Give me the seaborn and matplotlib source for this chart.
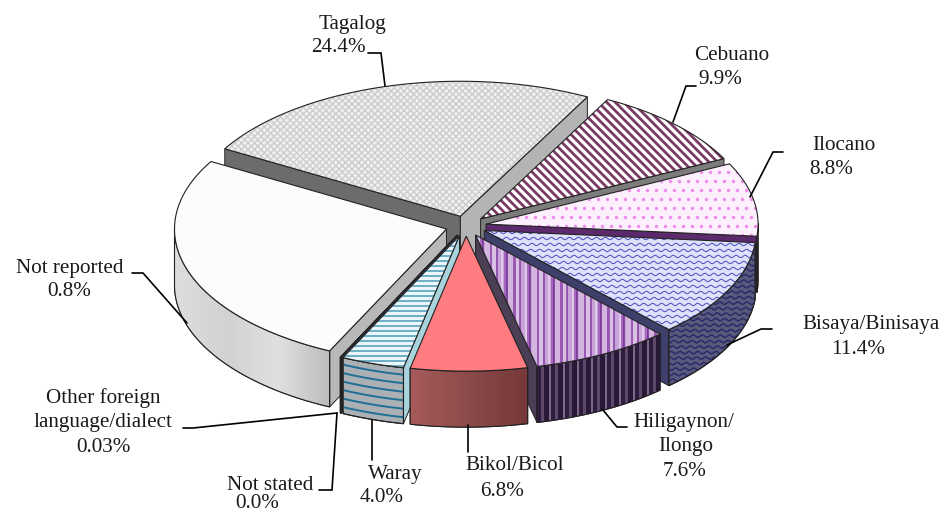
from __future__ import annotations

import matplotlib
matplotlib.use("Agg")
import matplotlib.pyplot as plt
import numpy as np
import seaborn as sns
from matplotlib.collections import LineCollection
from matplotlib.patches import Polygon

# shares in percent, clockwise from the Tagalog slice; the white slice also holds
# the unlabelled remainder next to "Not reported" (0.8%)
languages = ["Tagalog", "Cebuano", "Ilocano", "Bisaya", "Hiligaynon", "Bikol", "Waray",
             "Not stated", "Other foreign", "Not reported"]
shares = [24.4, 9.9, 8.8, 11.4, 7.6, 6.8, 4.0, 0.0, 0.03, 27.07]

label_lines = [
    ("Tagalog", 352, 24), ("24.4%", 338, 48),
    ("Cebuano", 732, 55), ("9.9%", 720, 80),
    ("Ilocano", 844, 145), ("8.8%", 831, 169),
    ("Bisaya/Binisaya", 871, 324), ("11.4%", 858, 349),
    ("Hiligaynon/", 684, 422), ("Ilongo", 686, 446), ("7.6%", 685, 471),
    ("Bikol/Bicol", 515, 465), ("6.8%", 502, 491),
    ("Waray", 395, 475), ("4.0%", 382, 498),
    ("Not stated", 270, 485), ("0.0%", 257, 504),
    ("Other foreign", 103, 398), ("language/dialect", 103, 422), ("0.03%", 103, 447),
    ("Not reported", 70, 268), ("0.8%", 69, 292),
]
leaders = [
    [(368, 53), (381, 53), (385, 86)],
    [(696, 86), (686, 86), (673, 122)],
    [(783, 152), (773, 152), (750, 197)],
    [(772, 329), (761, 329), (727, 345)],
    [(603, 410), (617, 427), (627, 427)],
    [(468, 425), (468, 452)],
    [(372, 420), (372, 460)],
    [(337, 413), (332, 490), (319, 490)],
    [(337, 413), (193, 428), (183, 428)],
    [(132, 273), (143, 273), (187, 323)],
]

# pie geometry, in image pixels
CX, CY = 466, 226
RX, RY = 272, 135
DEPTH = 56
EXPLODE = 0.075
START = 150

top_colors = ["#efefef", "#ffffff", "#fdf0fd", "#dfe2fb", "#c9a3d9", "#ff7c80", "#eaf6fa",
              "#333333", "#333333", "#fcfcfc"]
rim_colors = ["#999999", "#777777", "#666666", "#5a5a7c", "#4d3a5c", "#8c4a4a", "#aab0b4",
              "#333344", "#333344", "#d4d4d4"]
cut_start_colors = ["#6c6c6c", "#8a8a8a", "#7a7a7a", "#5c3070", "#444468", "#4a3f55", "#a8d2dc",
                    "#333344", "#333344", "#b8b8b8"]
cut_end_colors = ["#b4b4b4", "#7c7c7c", "#5c2a6c", "#3f3f6c", "#4a3f55", "#4a3f55", "#9cc8d4",
                  "#333344", "#333344", "#b8b8b8"]


def warp(angles):
    # the original pie has perspective: the front slices look wider than their share
    rad = np.deg2rad(angles)
    return angles - 4 * np.clip(-np.sin(rad), 0, 1) ** 4


def outer(apex, angles, drop=0.0):
    rad = np.deg2rad(angles)
    return np.column_stack([apex[0] + RX * np.cos(rad), apex[1] - RY * np.sin(rad) + drop])


def clipped_lines(ax, patch, segments, color, lw):
    lines = LineCollection(segments, colors=color, linewidths=lw, zorder=patch.get_zorder())
    ax.add_collection(lines)
    lines.set_clip_path(patch)


def diagonal_stripes(ax, patch, spacing, color, lw, sign=1):
    offsets = np.arange(-1000, 1600, spacing)
    segments = [[(o, 0), (o + sign * 600, 600)] for o in offsets]
    clipped_lines(ax, patch, segments, color, lw)


def wave_lines(ax, patch, box, spacing, color, lw):
    x = np.arange(box[0], box[1], 1.0)
    segments = []
    for row, y in enumerate(np.arange(box[2], box[3], spacing)):
        segments.append(np.column_stack([x, y + 1.2 * np.sin(x * 2 * np.pi / 9 + row)]))
    clipped_lines(ax, patch, segments, color, lw)


def vertical_stripes(ax, patch, box, colors, widths):
    x = box[0]
    i = 0
    segments, seg_colors, seg_widths = [], [], []
    while x < box[1]:
        w = widths[i % len(widths)]
        segments.append([(x + w / 2, box[2]), (x + w / 2, box[3])])
        seg_colors.append(colors[i % len(colors)])
        seg_widths.append(w * 0.72)
        x += w
        i += 1
    clipped_lines(ax, patch, segments, seg_colors, seg_widths)


def gradient(ax, patch, box, colors):
    ramp = np.array(sns.blend_palette(colors, 64))[np.newaxis, :, :]
    im = ax.imshow(ramp, extent=(box[0], box[1], box[3], box[2]), aspect="auto",
                   zorder=patch.get_zorder(), interpolation="bilinear")
    im.set_clip_path(patch)


sns.set_theme(style="white")
plt.rcParams["font.family"] = ["Liberation Serif", "DejaVu Serif"]

fig, ax = plt.subplots(figsize=(9.45, 5.13), dpi=100)
fig.subplots_adjust(left=0, right=1, bottom=0, top=1)
ax.axis("off")

sweeps = np.array(shares) / np.sum(shares) * 360
starts = START - np.concatenate([[0], np.cumsum(sweeps)[:-1]])
ends = starts - sweeps
starts, ends = warp(starts), warp(ends)
mids = (starts + ends) / 2
order = np.argsort(-np.sin(np.deg2rad(mids)), kind="stable")

z = 2
for i in order:
    a0, a1 = starts[i], ends[i]
    apex = (CX + EXPLODE * RX * np.cos(np.deg2rad(mids[i])),
            CY - EXPLODE * RY * np.sin(np.deg2rad(mids[i])))
    edge = "#222222"

    # cut faces, only those turned towards the viewer
    for angle, normal, color in ((a0, a0 + 90, cut_start_colors[i]), (a1, a1 - 90, cut_end_colors[i])):
        if np.sin(np.deg2rad(normal)) >= 0:
            continue
        p = outer(apex, np.array([angle]))[0]
        face = [apex, p, (p[0], p[1] + DEPTH), (apex[0], apex[1] + DEPTH)]
        ax.add_patch(Polygon(face, closed=True, fc=color, ec=edge, lw=0.7, zorder=z))
    z += 1

    # outer rim, front half only
    t = np.linspace(a0, a1, 240)
    t = t[np.sin(np.deg2rad(t)) <= 0.005]
    if len(t) > 1:
        rim_pts = np.vstack([outer(apex, t), outer(apex, t[::-1], DEPTH)])
        rim = Polygon(rim_pts, closed=True, fc=rim_colors[i], ec=edge, lw=0.8, zorder=z)
        ax.add_patch(rim)
        box = (rim_pts[:, 0].min(), rim_pts[:, 0].max(), rim_pts[:, 1].min(), rim_pts[:, 1].max())
        if languages[i] == "Bikol":
            gradient(ax, rim, box, ["#a85a5a", "#8c4a4a", "#763838"])
        elif languages[i] == "Not reported":
            gradient(ax, rim, box, ["#dddddd", "#d2d2d2", "#e0e0e0", "#bcbcbc"])
        elif languages[i] == "Bisaya":
            wave_lines(ax, rim, box, 5.5, "#2a2a6a", 1.1)
        elif languages[i] == "Hiligaynon":
            vertical_stripes(ax, rim, box, ["#2f1c40", "#5c4a68", "#2a1838", "#7a6a84"], [4, 3, 5, 2])
        elif languages[i] == "Waray":
            rows = [outer(apex, t, d) for d in np.arange(7, DEPTH, 8.5)]
            clipped_lines(ax, rim, rows, "#1f6f96", 1.4)
        ax.add_patch(Polygon(rim_pts, closed=True, fill=False, ec=edge, lw=0.8, zorder=z))
        z += 1

    # top surface
    arc = outer(apex, np.linspace(a0, a1, 240))
    corners = np.vstack([[apex], arc])
    top = Polygon(corners, closed=True, fc=top_colors[i], ec="none", zorder=z)
    ax.add_patch(top)
    box = (corners[:, 0].min() - 10, corners[:, 0].max() + 10,
           corners[:, 1].min() - 10, corners[:, 1].max() + 10)
    if languages[i] == "Tagalog":
        diagonal_stripes(ax, top, 6.5, "#cacaca", 0.9)
        diagonal_stripes(ax, top, 6.5, "#cacaca", 0.9, sign=-1)
    elif languages[i] == "Cebuano":
        diagonal_stripes(ax, top, 8.5, "#7b3a63", 2.0)
    elif languages[i] == "Ilocano":
        xs, ys = np.meshgrid(np.arange(box[0], box[1], 9), np.arange(box[2], box[3], 9))
        xs[1::2] += 4.5
        dots = ax.scatter(xs.ravel(), ys.ravel(), s=6, color="#ee8cee", lw=0, zorder=z)
        dots.set_clip_path(top)
    elif languages[i] == "Bisaya":
        wave_lines(ax, top, box, 6, "#5a5ac6", 0.8)
    elif languages[i] == "Hiligaynon":
        vertical_stripes(ax, top, box,
                         ["#9b59b6", "#d9c0e4", "#7e3f9e", "#c9a3d9", "#e6d6ee", "#a868c0", "#6f2f90", "#d3b5e0"],
                         [3, 4, 1.5, 4, 1.5, 3, 1.5, 5])
    elif languages[i] == "Waray":
        rows = [[(box[0], y), (box[1], y)] for y in np.arange(box[2], box[3], 5)]
        clipped_lines(ax, top, rows, "#63a9c2", 1.3)
    ax.add_patch(Polygon(corners, closed=True, fill=False, ec=edge, lw=0.8, zorder=z))
    z += 1

for path in leaders:
    xs, ys = zip(*path)
    ax.plot(xs, ys, color="black", lw=1.2, zorder=z, solid_joinstyle="miter")

for text, x, y in label_lines:
    ax.text(x, y, text, ha="center", va="center", fontsize=15.2, color="#1a1a1a", zorder=z + 1)

ax.set_xlim(0, 945)
ax.set_ylim(513, 0)

plt.savefig("out.png", dpi=100)
